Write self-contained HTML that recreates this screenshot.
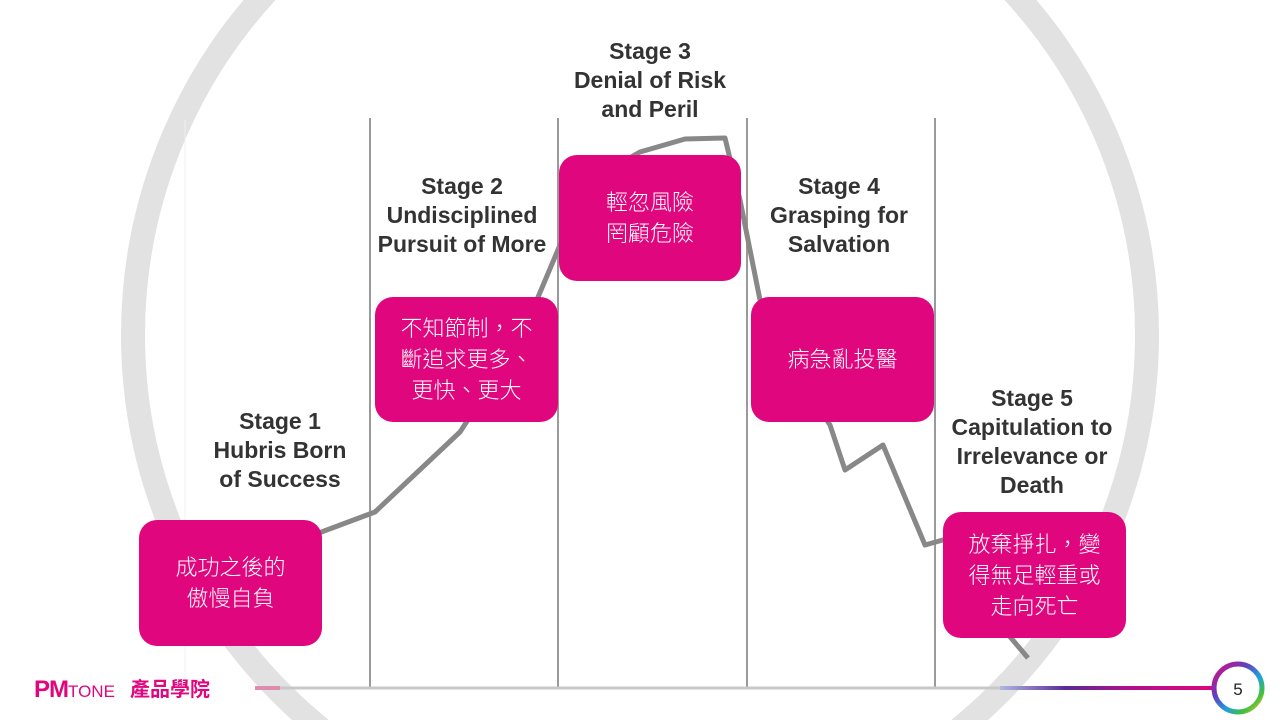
<!DOCTYPE html>
<html><head><meta charset="utf-8"><style>
html,body{margin:0;padding:0;width:1280px;height:720px;overflow:hidden;background:#fff;position:relative}
svg{position:absolute;left:0;top:0;overflow:hidden}
.st{font-family:"Liberation Sans Narrow","Liberation Sans",sans-serif;font-weight:bold;font-size:23px;fill:#333;text-anchor:middle}
.box{position:absolute;background:#e0067e;border-radius:18px;color:#fff;display:flex;align-items:center;justify-content:center;text-align:center;font-family:"Liberation Sans","Noto Sans CJK TC",sans-serif;font-size:22px;line-height:31px;font-weight:300}
</style></head><body>
<svg width="1280" height="720" viewBox="0 0 1280 720" overflow="hidden">
<circle cx="640" cy="335" r="507" fill="none" stroke="#e2e2e2" stroke-width="24"/>
<g stroke="#9a9a9a" stroke-width="2">
<line x1="370" y1="118" x2="370" y2="688"/>
<line x1="558" y1="118" x2="558" y2="688"/>
<line x1="747" y1="118" x2="747" y2="688"/>
<line x1="935" y1="118" x2="935" y2="688"/>
</g>
<line x1="185" y1="120" x2="185" y2="680" stroke="#f0f0f0" stroke-width="1"/>
<line x1="255" y1="688" x2="1215" y2="688" stroke="#c8c8c8" stroke-width="3"/>
<line x1="255" y1="688" x2="280" y2="688" stroke="#e08ab0" stroke-width="4"/>
<defs><linearGradient id="g" x1="0" x2="1"><stop offset="0" stop-color="#b0b8e0"/><stop offset="0.3" stop-color="#5a2a9a"/><stop offset="0.6" stop-color="#b0108a"/><stop offset="1" stop-color="#e0067e"/></linearGradient>
<linearGradient id="rg" x1="0" y1="0" x2="1" y2="1"><stop offset="0" stop-color="#e0067e"/><stop offset="0.35" stop-color="#6040c0"/><stop offset="0.6" stop-color="#20a0e0"/><stop offset="0.8" stop-color="#40c040"/><stop offset="1" stop-color="#f0c020"/></linearGradient></defs>
<rect x="1000" y="686" width="218" height="4" fill="url(#g)"/>
<circle cx="1238" cy="688" r="24" fill="#fff" stroke="url(#rg)" stroke-width="5"/>
<text x="1238" y="695" font-family="Liberation Sans Narrow,Liberation Sans,sans-serif" font-size="17" text-anchor="middle" fill="#222">5</text>
<polyline fill="none" stroke="#888" stroke-width="5" stroke-linejoin="round" points="300,540 375,512 460,432 520,340 560,245 600,175 640,152 685,139 725,138 740,200 760,300 800,380 830,425 845,470 883,445 925,545 950,538"/>
<polyline fill="none" stroke="#888" stroke-width="5" points="1000,625 1028,658"/>
<text class="st" x="280" y="429">Stage 1</text>
<text class="st" x="280" y="458">Hubris Born</text>
<text class="st" x="280" y="487">of Success</text>
<text class="st" x="462" y="194">Stage 2</text>
<text class="st" x="462" y="223">Undisciplined</text>
<text class="st" x="462" y="252">Pursuit of More</text>
<text class="st" x="650" y="59">Stage 3</text>
<text class="st" x="650" y="88">Denial of Risk</text>
<text class="st" x="650" y="117">and Peril</text>
<text class="st" x="839" y="194">Stage 4</text>
<text class="st" x="839" y="223">Grasping for</text>
<text class="st" x="839" y="252">Salvation</text>
<text class="st" x="1032" y="406">Stage 5</text>
<text class="st" x="1032" y="435">Capitulation to</text>
<text class="st" x="1032" y="464">Irrelevance or</text>
<text class="st" x="1032" y="493">Death</text>
<text x="34" y="697" font-family="Liberation Sans,sans-serif" font-weight="bold" font-size="24" fill="#e0067e" letter-spacing="-1">PM</text>
<text x="68" y="697" font-family="Liberation Sans,sans-serif" font-size="17" fill="#e0067e">TONE</text>
<text x="130" y="696" font-family="Liberation Sans,Noto Sans CJK TC,sans-serif" font-weight="bold" font-size="20" fill="#e0067e">產品學院</text>
</svg>
<div class="box" style="left:139px;top:520px;width:183px;height:126px">成功之後的<br>傲慢自負</div>
<div class="box" style="left:375px;top:297px;width:183px;height:125px">不知節制，不<br>斷追求更多、<br>更快、更大</div>
<div class="box" style="left:559px;top:155px;width:182px;height:126px">輕忽風險<br>罔顧危險</div>
<div class="box" style="left:751px;top:297px;width:183px;height:125px">病急亂投醫</div>
<div class="box" style="left:943px;top:512px;width:183px;height:126px">放棄掙扎，變<br>得無足輕重或<br>走向死亡</div>
</body></html>
